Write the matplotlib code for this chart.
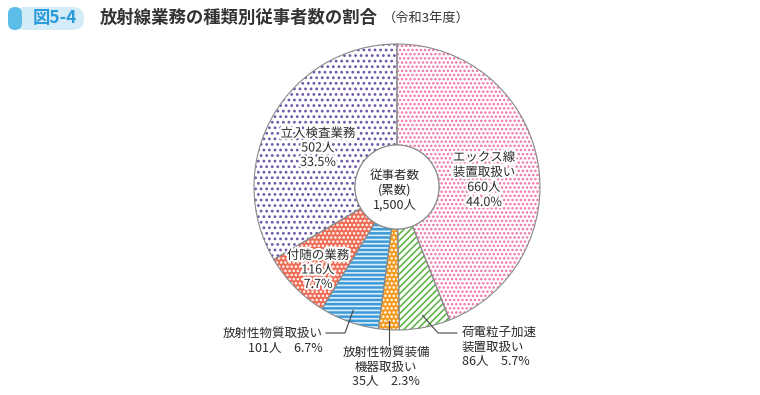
import numpy as np
import matplotlib
matplotlib.use("Agg")
import matplotlib.pyplot as plt
import matplotlib.patheffects as pe
from matplotlib.patches import FancyBboxPatch, Circle

plt.rcParams['font.family'] = ['Noto Sans CJK JP', 'DejaVu Sans']
plt.rcParams['hatch.linewidth'] = 1.2

# data (令和3年度)
names = ["エックス線\n装置取扱い", "荷電粒子加速\n装置取扱い", "放射性物質装備\n機器取扱い",
         "放射性物質取扱い", "付随の業務", "立入検査業務"]
counts = [660, 86, 35, 101, 116, 502]
total = sum(counts)

facecolors = ["white", "white", "#f39a1e", "#3d9ad6", "#ee6b55", "white"]
hatchcolors = ["#ee6fa6", "#62b54a", "white", "#d8eefb", "white", "#6b56a8"]
hatches = ["....", "/////", "....", "----", "....", "..."]

W, H = 760, 395
cx, cy, R, r_in = 397, H - 187, 143, 42
txt = "#2b2b2b"
halo = [pe.withStroke(linewidth=3, foreground="white")]

fig = plt.figure(figsize=(W / 100, H / 100), dpi=100)
ax = fig.add_axes([0, 0, 1, 1])

wedges, _ = ax.pie(counts, colors=facecolors, startangle=90, counterclock=False,
                   radius=R, center=(cx, cy), frame=True,
                   wedgeprops=dict(width=R - r_in, linewidth=0))
for w, hc, hp in zip(wedges, hatchcolors, hatches):
    w.set_hatch(hp)
    w.set_edgecolor(hc)
# outlines
ax.pie(counts, startangle=90, counterclock=False, radius=R, center=(cx, cy), frame=True,
       wedgeprops=dict(width=R - r_in, fill=False, edgecolor="#8a8a8a", linewidth=0.8))
ax.add_patch(Circle((cx, cy), r_in, facecolor="white", edgecolor="#8a8a8a", linewidth=0.8))

ax.set_xlim(0, W)
ax.set_ylim(0, H)
ax.set_aspect("equal")
ax.axis("off")

pct = [c / total * 100 for c in counts]
fs = 9

# center
ax.text(cx - 2, H - 190, "従事者数\n(累数)\n{:,}人".format(total), ha="center", va="center",
        fontsize=fs, color=txt, linespacing=1.2)

# inside labels
ax.text(484, H - 180, "{}\n{}人\n{:.1f}%".format(names[0], counts[0], pct[0]), ha="center",
        va="center", fontsize=fs, color=txt, linespacing=1.2, path_effects=halo)
ax.text(318, H - 148, "{}\n{}人\n{:.1f}%".format(names[5], counts[5], pct[5]), ha="center",
        va="center", fontsize=fs, color=txt, linespacing=1.15, path_effects=halo)
ax.text(318, H - 270, "{}\n{}人\n{:.1f}%".format(names[4], counts[4], pct[4]), ha="center",
        va="center", fontsize=fs, color=txt, linespacing=1.15, path_effects=halo)


def anchor(i, rr=131):
    w = wedges[i]
    a = np.deg2rad((w.theta1 + w.theta2) / 2)
    return cx + rr * np.cos(a), cy + rr * np.sin(a)


# 荷電粒子加速装置取扱い
x0, y0 = anchor(1)
ax.plot([x0, 438, 457], [y0, H - 333, H - 333], color="#444444", lw=0.8)
ax.text(462, H - 347, "{}\n{}人　{:.1f}%".format(names[1], counts[1], pct[1]), ha="left",
        va="center", fontsize=fs, color=txt, linespacing=1.15)

# 放射性物質装備機器取扱い
x0, y0 = anchor(2, 134)
ax.plot([x0, x0], [y0, H - 345], color="#444444", lw=0.8)
ax.text(386, H - 367, "{}\n{}人　{:.1f}%".format(names[2], counts[2], pct[2]), ha="center",
        va="center", fontsize=fs, color=txt, linespacing=1.15)

# 放射性物質取扱い
x0, y0 = anchor(3)
ax.plot([x0, 345, 326], [y0, H - 333, H - 333], color="#444444", lw=0.8)
ax.text(323, H - 341, "{}\n{}人　{:.1f}%".format(names[3], counts[3], pct[3]), ha="right",
        va="center", fontsize=fs, color=txt, linespacing=1.15, multialignment="right")

# title badge
ax.add_patch(FancyBboxPatch((14, H - 30), 70, 23, boxstyle="round,pad=0,rounding_size=11",
                            facecolor="#d3ecf8", edgecolor="none"))
ax.add_patch(FancyBboxPatch((8, H - 30), 14, 23, boxstyle="round,pad=0,rounding_size=7",
                            facecolor="#5cbde8", edgecolor="none"))
ax.text(33, H - 18, "図5-4", ha="left", va="center", fontsize=12.5, color="#2a9ad8",
        fontweight="bold")
ax.text(100, H - 18, "放射線業務の種類別従事者数の割合", ha="left", va="center",
        fontsize=12.5, color="#333333", fontweight="bold")
ax.text(383, H - 18, "（令和3年度）", ha="left", va="center", fontsize=9.5, color="#333333")

fig.savefig("out.png", dpi=100)
